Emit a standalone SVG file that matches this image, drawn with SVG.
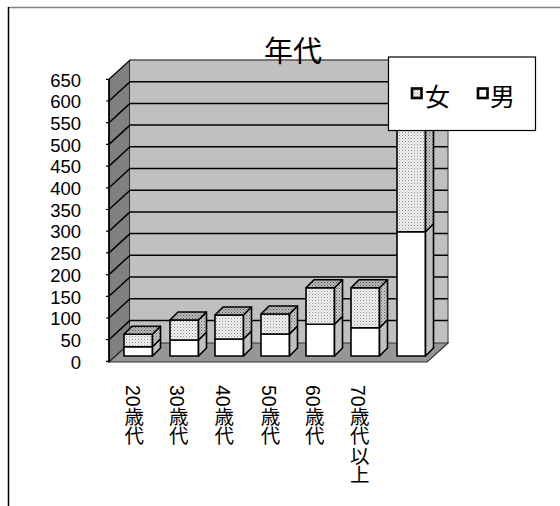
<svg xmlns="http://www.w3.org/2000/svg" width="560" height="506" viewBox="0 0 560 506">
<defs>
<style>
.t{font-family:"Liberation Sans","Noto Sans CJK JP",sans-serif;fill:#000}
.ax{font-size:18.5px;text-anchor:end}
.cat{font-size:19.5px;writing-mode:tb}
.grid{stroke:#000;stroke-width:1.5}
.bx{stroke:#000;stroke-width:1.6;stroke-linejoin:round}
</style>
<pattern id="dotF" width="3" height="3" patternUnits="userSpaceOnUse">
<rect width="3" height="3" fill="#f2f2f2"/>
<rect x="0" y="0" width="1" height="1" fill="#8a8a8a"/>
<rect x="1.5" y="1.5" width="1" height="1" fill="#b0b0b0"/>
</pattern>
<pattern id="dotS" width="3" height="3" patternUnits="userSpaceOnUse">
<rect width="3" height="3" fill="#c8c8c8"/>
<rect x="0" y="0" width="1" height="1" fill="#606060"/>
<rect x="1.5" y="1.5" width="1" height="1" fill="#808080"/>
</pattern>
<pattern id="dotT" width="3" height="3" patternUnits="userSpaceOnUse">
<rect width="3" height="3" fill="#b8b8b8"/>
<rect x="0" y="0" width="1" height="1" fill="#505050"/>
<rect x="1.5" y="1.5" width="1" height="1" fill="#707070"/>
</pattern>
</defs>

<!-- frame -->
<line x1="8" y1="7.5" x2="560" y2="7.5" stroke="#808080" stroke-width="1.5"/>
<line x1="8.5" y1="7" x2="8.5" y2="506" stroke="#000" stroke-width="1.5"/>

<!-- walls -->
<g id="walls">
<polygon points="109,79.3 130,60 130,343 109,362" fill="#808080" stroke="#000" stroke-width="1.2"/>
<rect x="130" y="60" width="318" height="283" fill="#c0c0c0"/>
<line x1="130" y1="60" x2="448" y2="60" stroke="#555" stroke-width="1.5"/>
<line x1="448" y1="60" x2="448" y2="343" stroke="#555" stroke-width="1.2"/>
<polygon points="109,362 427,362 448,343 130,343" fill="#969696" stroke="#333" stroke-width="1.2"/>
</g>

<text class="t" x="293" y="62" font-size="29" text-anchor="middle">年代</text>

<g id="grid">
<line class="grid" x1="130" y1="81.7" x2="448" y2="81.7"/>
<line class="grid" x1="130" y1="103.4" x2="448" y2="103.4"/>
<line class="grid" x1="130" y1="125.1" x2="448" y2="125.1"/>
<line class="grid" x1="130" y1="146.8" x2="448" y2="146.8"/>
<line class="grid" x1="130" y1="168.5" x2="448" y2="168.5"/>
<line class="grid" x1="130" y1="190.2" x2="448" y2="190.2"/>
<line class="grid" x1="130" y1="211.9" x2="448" y2="211.9"/>
<line class="grid" x1="130" y1="233.6" x2="448" y2="233.6"/>
<line class="grid" x1="130" y1="255.3" x2="448" y2="255.3"/>
<line class="grid" x1="130" y1="277" x2="448" y2="277"/>
<line class="grid" x1="130" y1="298.7" x2="448" y2="298.7"/>
<line class="grid" x1="130" y1="320.4" x2="448" y2="320.4"/>
<line class="grid" x1="109" y1="101" x2="130" y2="81.7"/>
<line class="grid" x1="109" y1="122.7" x2="130" y2="103.4"/>
<line class="grid" x1="109" y1="144.4" x2="130" y2="125.1"/>
<line class="grid" x1="109" y1="166.1" x2="130" y2="146.8"/>
<line class="grid" x1="109" y1="187.8" x2="130" y2="168.5"/>
<line class="grid" x1="109" y1="209.5" x2="130" y2="190.2"/>
<line class="grid" x1="109" y1="231.2" x2="130" y2="211.9"/>
<line class="grid" x1="109" y1="252.9" x2="130" y2="233.6"/>
<line class="grid" x1="109" y1="274.6" x2="130" y2="255.3"/>
<line class="grid" x1="109" y1="296.3" x2="130" y2="277"/>
<line class="grid" x1="109" y1="318" x2="130" y2="298.7"/>
<line class="grid" x1="109" y1="339.7" x2="130" y2="320.4"/>
<line stroke="#000" stroke-width="1.5" x1="109" y1="79.3" x2="109" y2="362"/>
<path d="M106,79.3H109M106,101H109M106,122.7H109M106,144.4H109M106,166.1H109M106,187.8H109M106,209.5H109M106,231.2H109M106,252.9H109M106,274.6H109M106,296.3H109M106,318H109M106,339.7H109M106,361.4H109" stroke="#000" stroke-width="1.2"/>
</g>

<g id="yaxis" class="t ax">
<text x="81" y="86.5">650</text>
<text x="81" y="108.2">600</text>
<text x="81" y="129.9">550</text>
<text x="81" y="151.6">500</text>
<text x="81" y="173.3">450</text>
<text x="81" y="195">400</text>
<text x="81" y="216.7">350</text>
<text x="81" y="238.4">300</text>
<text x="81" y="260.1">250</text>
<text x="81" y="281.8">200</text>
<text x="81" y="303.5">150</text>
<text x="81" y="325.2">100</text>
<text x="81" y="346.9">50</text>
<text x="81" y="368.6">0</text>
</g>

<!-- bars -->
<g id="bar1">
<rect class="bx" x="124" y="346.7" width="28.5" height="9.3" fill="#fff"/>
<polygon class="bx" points="152.5,356 160.5,348 160.5,338.7 152.5,346.7" fill="#c0c0c0"/>
<rect class="bx" x="124" y="334.3" width="28.5" height="12.4" fill="url(#dotF)"/>
<polygon class="bx" points="152.5,346.7 160.5,338.7 160.5,326.3 152.5,334.3" fill="url(#dotS)"/>
<polygon class="bx" points="124,334.3 152.5,334.3 160.5,326.3 132,326.3" fill="url(#dotT)"/>
</g>
<g id="bar2">
<rect class="bx" x="170" y="340" width="28.5" height="16" fill="#fff"/>
<polygon class="bx" points="198.5,356 206.5,348 206.5,332 198.5,340" fill="#c0c0c0"/>
<rect class="bx" x="170" y="320" width="28.5" height="20" fill="url(#dotF)"/>
<polygon class="bx" points="198.5,340 206.5,332 206.5,312 198.5,320" fill="url(#dotS)"/>
<polygon class="bx" points="170,320 198.5,320 206.5,312 178,312" fill="url(#dotT)"/>
</g>
<g id="bar3">
<rect class="bx" x="215" y="339" width="28.5" height="17" fill="#fff"/>
<polygon class="bx" points="243.5,356 251.5,348 251.5,331 243.5,339" fill="#c0c0c0"/>
<rect class="bx" x="215" y="315" width="28.5" height="24" fill="url(#dotF)"/>
<polygon class="bx" points="243.5,339 251.5,331 251.5,307 243.5,315" fill="url(#dotS)"/>
<polygon class="bx" points="215,315 243.5,315 251.5,307 223,307" fill="url(#dotT)"/>
</g>
<g id="bar4">
<rect class="bx" x="261" y="334" width="28.5" height="22" fill="#fff"/>
<polygon class="bx" points="289.5,356 297.5,348 297.5,326 289.5,334" fill="#c0c0c0"/>
<rect class="bx" x="261" y="314" width="28.5" height="20" fill="url(#dotF)"/>
<polygon class="bx" points="289.5,334 297.5,326 297.5,306 289.5,314" fill="url(#dotS)"/>
<polygon class="bx" points="261,314 289.5,314 297.5,306 269,306" fill="url(#dotT)"/>
</g>
<g id="bar5">
<rect class="bx" x="306" y="324.3" width="28.5" height="31.7" fill="#fff"/>
<polygon class="bx" points="334.5,356 342.5,348 342.5,316.3 334.5,324.3" fill="#c0c0c0"/>
<rect class="bx" x="306" y="287.7" width="28.5" height="36.6" fill="url(#dotF)"/>
<polygon class="bx" points="334.5,324.3 342.5,316.3 342.5,279.7 334.5,287.7" fill="url(#dotS)"/>
<polygon class="bx" points="306,287.7 334.5,287.7 342.5,279.7 314,279.7" fill="url(#dotT)"/>
</g>
<g id="bar6">
<rect class="bx" x="351" y="327.7" width="28.5" height="28.3" fill="#fff"/>
<polygon class="bx" points="379.5,356 387.5,348 387.5,319.7 379.5,327.7" fill="#c0c0c0"/>
<rect class="bx" x="351" y="287.7" width="28.5" height="40" fill="url(#dotF)"/>
<polygon class="bx" points="379.5,327.7 387.5,319.7 387.5,279.7 379.5,287.7" fill="url(#dotS)"/>
<polygon class="bx" points="351,287.7 379.5,287.7 387.5,279.7 359,279.7" fill="url(#dotT)"/>
</g>
<g id="bar7">
<rect class="bx" x="397" y="231.7" width="28.5" height="124.3" fill="#fff"/>
<polygon class="bx" points="425.5,356 433.5,348 433.5,223.7 425.5,231.7" fill="#c0c0c0"/>
<rect class="bx" x="397" y="100" width="28.5" height="131.7" fill="url(#dotF)"/>
<polygon class="bx" points="425.5,231.7 433.5,223.7 433.5,92 425.5,100" fill="url(#dotS)"/>
</g>

<g id="categories" class="t cat">
<text x="132.7" y="385">20歳代</text>
<text x="177.3" y="385">30歳代</text>
<text x="222.7" y="385">40歳代</text>
<text x="269" y="385">50歳代</text>
<text x="313.3" y="385">60歳代</text>
<text x="358.3" y="385">70歳代以上</text>
</g>

<g id="legend">
<rect x="388.5" y="57" width="147" height="73.5" fill="#fff" stroke="#000" stroke-width="1.2"/>
<rect x="412" y="88.5" width="9.5" height="9.5" fill="url(#dotF)" stroke="#000" stroke-width="2.6"/>
<text class="t" x="425" y="105.5" font-size="25">女</text>
<rect x="478" y="88.5" width="9.5" height="9.5" fill="#fff" stroke="#000" stroke-width="2.6"/>
<text class="t" x="490" y="105.5" font-size="25">男</text>
</g>
</svg>
